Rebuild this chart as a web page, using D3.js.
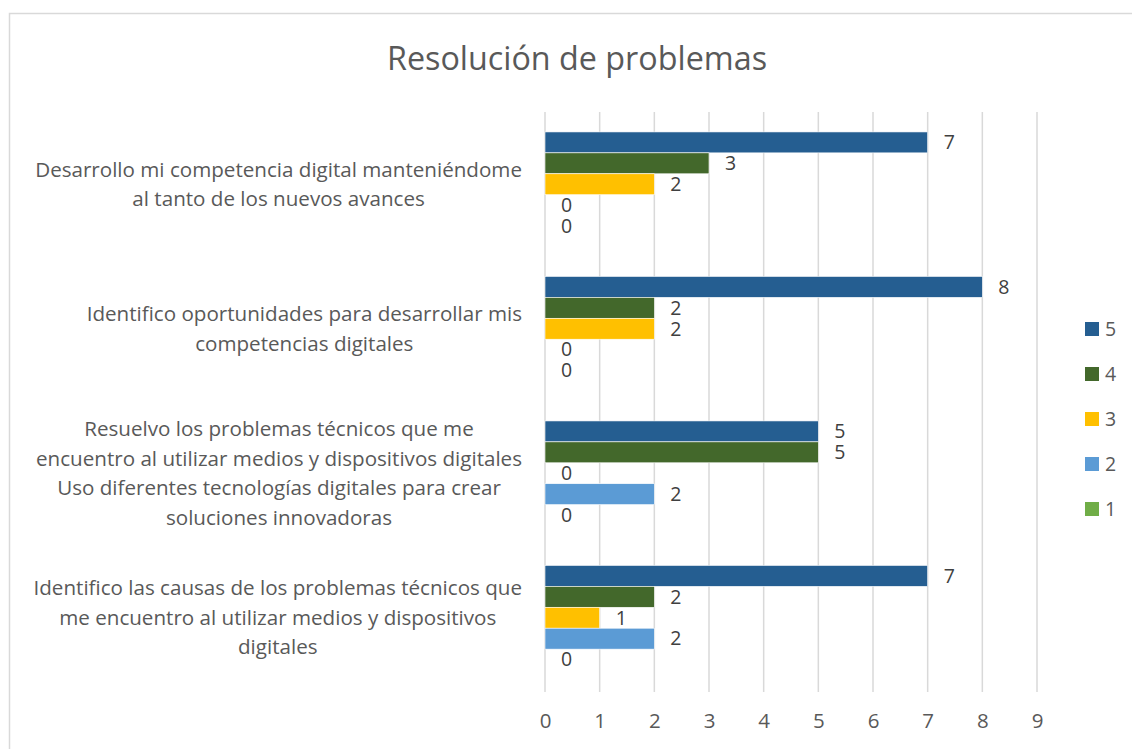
<!DOCTYPE html>
<html>
<head>
<meta charset="utf-8">
<script src="https://cdn.jsdelivr.net/npm/d3@7"></script>
<style>
  body { margin: 0; background: #fff; }
  svg { display: block; font-family: "Open Sans", "Liberation Sans", sans-serif; }
</style>
</head>
<body>
<div id="drawing"></div>
<script>
const width = 1132;
const height = 749;

// chart data
const categories = [
  ["Desarrollo mi competencia digital manteniéndome", "al tanto de los nuevos avances"],
  ["Identifico oportunidades para desarrollar mis", "competencias digitales"],
  ["Resuelvo los problemas técnicos que me", "encuentro al utilizar medios y dispositivos digitales",
   "Uso diferentes tecnologías digitales para crear", "soluciones innovadoras"],
  ["Identifico las causas de los problemas técnicos que", "me encuentro al utilizar medios y dispositivos", "digitales"]
];
const seriesNames = ["5", "4", "3", "2", "1"];
const values5 = [7, 8, 5, 7];
const values4 = [3, 2, 5, 2];
const values3 = [2, 2, 0, 1];
const values2 = [0, 0, 2, 2];
const values1 = [0, 0, 0, 0];
const xTicks = [0, 1, 2, 3, 4, 5, 6, 7, 8, 9];
const colors = ["#255E91", "#43682B", "#FFC000", "#5B9BD5", "#70AD47"];

const allValues = [values5, values4, values3, values2, values1];

const plot = {left: 545, right: 1037, top: 112, bottom: 690};
const labelRight = 522;

const svg = d3.select("#drawing").append("svg")
  .attr("width", width)
  .attr("height", height);

// chart border
svg.append("rect")
  .attr("x", 9.5).attr("y", 13.5)
  .attr("width", 1140).attr("height", 760)
  .attr("fill", "#fff")
  .attr("stroke", "#D9D9D9")
  .attr("stroke-width", 1.5);

svg.append("text")
  .attr("x", 577).attr("y", 70)
  .attr("text-anchor", "middle")
  .attr("font-size", 32.3)
  .attr("fill", "#595959")
  .text("Resolución de problemas");

const xScale = d3.scaleLinear().domain([0, 9]).range([plot.left, plot.right]);
const yScale = d3.scaleBand().domain(d3.range(categories.length))
  .range([plot.top, plot.bottom])
  .paddingInner(0.276).paddingOuter(0.138);
const ySub = d3.scaleBand().domain(seriesNames).range([0, yScale.bandwidth()]);

// gridlines
svg.append("g").selectAll("line")
  .data(xTicks)
  .join("line")
  .attr("x1", d => xScale(d)).attr("x2", d => xScale(d))
  .attr("y1", plot.top).attr("y2", plot.bottom + 2)
  .attr("stroke", "#D9D9D9")
  .attr("stroke-width", 1.5);

// x axis labels
const xAxis = svg.append("g")
  .attr("transform", `translate(0,${plot.bottom + 15})`)
  .call(d3.axisBottom(xScale).tickValues(xTicks).tickSize(0).tickPadding(8));
xAxis.select(".domain").remove();
xAxis.selectAll("text")
  .attr("font-size", 20.5)
  .attr("font-family", "'Open Sans', sans-serif")
  .attr("fill", "#595959");

// category labels: a block right-aligned to the axis, lines centred inside it
const lineH = 29.5;
categories.forEach((lines, i) => {
  const cy = yScale(i) + yScale.bandwidth() / 2;
  const t = svg.append("text")
    .attr("text-anchor", "middle")
    .attr("font-size", 20.6)
    .attr("fill", "#595959");
  const spans = lines.map((ln, j) => t.append("tspan")
      .attr("y", cy + (j - (lines.length - 1) / 2) * lineH)
      .attr("dy", "0.35em")
      .text(ln));
  const maxW = d3.max(spans, s => s.node().getComputedTextLength());
  spans.forEach(s => s.attr("x", labelRight - maxW / 2));
});

// bars
const barData = [];
categories.forEach((c, i) => {
  seriesNames.forEach((s, k) => {
    barData.push({cat: i, series: s, value: allValues[k][i], color: colors[k]});
  });
});

svg.append("g").selectAll("rect")
  .data(barData.filter(d => d.value > 0))
  .join("rect")
  .attr("x", xScale(0))
  .attr("y", d => yScale(d.cat) + ySub(d.series))
  .attr("width", d => xScale(d.value) - xScale(0))
  .attr("height", ySub.bandwidth())
  .attr("fill", d => d.color)
  .attr("stroke", "#fff")
  .attr("stroke-width", 0.6);

// value labels
svg.append("g").selectAll("text")
  .data(barData)
  .join("text")
  .attr("x", d => xScale(d.value) + 16)
  .attr("y", d => yScale(d.cat) + ySub(d.series) + ySub.bandwidth() / 2)
  .attr("dy", "0.35em")
  .attr("font-size", 19.5)
  .attr("fill", "#404040")
  .text(d => d.value);

// legend
const legend = svg.append("g").selectAll("g")
  .data(seriesNames)
  .join("g")
  .attr("transform", (d, i) => `translate(1085,${329 + i * 45})`);
legend.append("rect")
  .attr("x", 0).attr("y", -7)
  .attr("width", 14).attr("height", 14)
  .attr("fill", (d, i) => colors[i]);
legend.append("text")
  .attr("x", 20).attr("y", 0)
  .attr("dy", "0.35em")
  .attr("font-size", 19.5)
  .attr("fill", "#595959")
  .text(d => d);
</script>
</body>
</html>
